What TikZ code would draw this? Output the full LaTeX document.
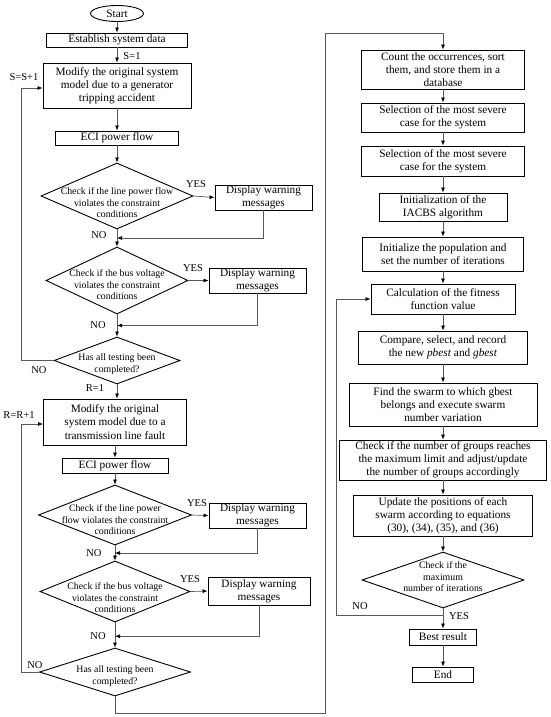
\documentclass[tikz,border=0pt]{standalone}
\usepackage{fontspec}
\setmainfont{Liberation Serif}
\usetikzlibrary{shapes.geometric,arrows.meta,calc}
\newcommand\myboxfont{\fontsize{11.3}{13.2}\selectfont}
\newcommand\mydiafont{\fontsize{9.8}{11.5}\selectfont}
\newcommand\mylblfont{\fontsize{10.5}{12}\selectfont}
\tikzset{
  box/.style={draw, line width=0.9pt, align=center, inner sep=0pt, font=\myboxfont},
  dia/.style={draw, diamond, line width=0.9pt, inner sep=0pt},
  dtxt/.style={align=center, font=\mydiafont, inner sep=0pt},
  term/.style={draw, ellipse, line width=0.9pt, inner sep=0pt, font=\myboxfont},
  arr/.style={draw=black!65, line width=0.7pt, -{Latex[length=5pt,width=4pt,black]}},
  lbl/.style={font=\mylblfont, inner sep=0pt}
}
\begin{document}
\begin{tikzpicture}[x=1pt,y=-1pt]
\useasboundingbox (0,0) rectangle (550,717);
% left column, upper part
\node[term, minimum width=53pt, minimum height=16pt] (start) at (117,13.5) {Start};
\node[box, minimum width=141pt, minimum height=14pt] (est) at (117,40) {Establish system data};
\node[box, minimum width=148pt, minimum height=45pt] (m1) at (117,85.5) {Modify the original system\\model due to a generator\\tripping accident};
\node[box, minimum width=123pt, minimum height=14pt] (eci1) at (117,138) {ECI power flow};
\node[dia, minimum width=152pt, minimum height=66pt] (d1) at (117,196) {};
\node[dtxt] (d1t) at (117,203) {Check if the line power flow\\violates the constraint\\conditions};
\node[box, minimum width=97pt, minimum height=25pt] (w1) at (263.5,197.5) {Display warning\\messages};
\node[dia, minimum width=142pt, minimum height=67pt] (d2) at (117,280.5) {};
\node[dtxt] (d2t) at (117,285) {Check if the bus voltage\\violates the constraint\\conditions};
\node[box, minimum width=97pt, minimum height=25pt] (w2) at (257.5,280.5) {Display warning\\messages};
\node[dia, minimum width=126pt, minimum height=47pt] (d3) at (117,360.5) {};
\node[dtxt] (d3t) at (117,364) {Has all testing been\\completed?};
% left column, lower part
\node[box, minimum width=143pt, minimum height=46pt] (m2) at (115,422) {Modify the original\\system model due to a\\transmission line fault};
\node[box, minimum width=106pt, minimum height=15pt] (eci2) at (115,465.5) {ECI power flow};
\node[dia, minimum width=153pt, minimum height=60pt] (d4) at (115,515) {};
\node[dtxt] (d4t) at (115,520) {Check if the line power\\flow violates the constraint\\conditions};
\node[box, minimum width=97pt, minimum height=25pt] (w3) at (257.5,515.5) {Display warning\\messages};
\node[dia, minimum width=150pt, minimum height=61pt] (d5) at (115,591.5) {};
\node[dtxt] (d5t) at (115,598) {Check if the bus voltage\\violates the constraint\\conditions};
\node[box, minimum width=102pt, minimum height=28pt] (w4) at (259,591) {Display warning\\messages};
\node[dia, minimum width=151pt, minimum height=48pt] (d6) at (115,672) {};
\node[dtxt] (d6t) at (115,676) {Has all testing been\\completed?};
% right column
\node[box, minimum width=163pt, minimum height=39pt] (count) at (443,69.5) {Count the occurrences, sort\\them, and store them in a\\database};
\node[box, minimum width=163pt, minimum height=29pt] (sel1) at (443,117.5) {Selection of the most severe\\case for the system};
\node[box, minimum width=163pt, minimum height=30pt] (sel2) at (443,161) {Selection of the most severe\\case for the system};
\node[box, minimum width=128pt, minimum height=28pt] (init) at (443,207) {Initialization of the\\IACBS algorithm};
\node[box, minimum width=161pt, minimum height=34pt] (pop) at (443,254) {Initialize the population and\\set the number of iterations};
\node[box, minimum width=144pt, minimum height=30pt] (calc) at (443,299) {Calculation of the fitness\\function value};
\node[box, minimum width=169pt, minimum height=33pt] (comp) at (443,347.5) {Compare, select, and record\\the new \textit{pbest} and \textit{gbest}};
\node[box, minimum width=188pt, minimum height=43pt] (find) at (443,404.5) {Find the swarm to which gbest\\belongs and execute swarm\\number variation};
\node[box, minimum width=207pt, minimum height=40pt] (grp) at (443,460) {Check if the number of groups reaches\\the maximum limit and adjust/update\\the number of groups accordingly};
\node[box, minimum width=179pt, minimum height=41pt] (upd) at (443,515.5) {Update the positions of each\\swarm according to equations\\(30), (34), (35), and (36)};
\node[dia, minimum width=162pt, minimum height=56pt] (dm) at (443,580) {};
\node[dtxt] (dmt) at (443,577) {Check if the\\maximum\\number of iterations};
\node[box, minimum width=67pt, minimum height=16pt] (best) at (443,637) {Best result};
\node[box, minimum width=61pt, minimum height=15pt] (end) at (443,674.5) {End};
% connectors, left upper
\draw[arr] (start) -- (est);
\draw[arr] (est) -- (m1);
\draw[arr] (m1) -- (eci1);
\draw[arr] (eci1) -- (d1.north);
\draw[arr] (d1.east) -- (w1.west);
\draw[arr] (d1.south) -- (d2.north);
\draw[arr] (w1.south) |- ($(d1.south)!0.5!(d2.north)$);
\draw[arr] (d2.east) -- (w2.west);
\draw[arr] (d2.south) -- (d3.north);
\draw[arr] (w2.south) |- ($(d2.south)!0.5!(d3.north)$);
\draw[arr] (d3.west) -- ++(-32,0) |- ([yshift=-2.5pt]m1.west);
\draw[arr] (d3.south) -- (d3.south |- m2.north);
% connectors, left lower
\draw[arr] (m2) -- (eci2);
\draw[arr] (eci2) -- (d4.north);
\draw[arr] (d4.east) -- (w3.west);
\draw[arr] (d4.south) -- (d5.north);
\draw[arr] (w3.south) |- ($(d4.south)!0.5!(d5.north)$);
\draw[arr] (d5.east) -- (w4.west);
\draw[arr] (d5.south) -- (d6.north);
\draw[arr] (w4.south) |- ($(d5.south)!0.55!(d6.north)$);
\draw[arr] (d6.west) -- ++(-17.5,0) |- ([yshift=-2pt]m2.west);
\draw[arr] (d6.south) -- ++(0,17) -| (325,33) -| (count.north);
% connectors, right
\draw[arr] (count) -- (sel1);
\draw[arr] (sel1) -- (sel2);
\draw[arr] (sel2) -- (init);
\draw[arr] (init) -- (pop);
\draw[arr] (pop) -- (calc);
\draw[arr] (calc) -- (comp);
\draw[arr] (comp) -- (find);
\draw[arr] (find) -- (grp);
\draw[arr] (grp) -- (upd);
\draw[arr] (upd) -- (dm.north);
\draw[arr] (dm.south) -- (best);
\draw[arr] ([yshift=-7pt]dm.south) -- ++(-107,0) |- (calc.west);
\draw[arr] (best) -- (end);
% labels
\node[lbl] (ls1) at (132,56) {S=1};
\node[lbl] (lss) at (24,77) {S=S+1};
\node[lbl] (ly1) at (196,184) {YES};
\node[lbl] (ln1) at (99,235) {NO};
\node[lbl] (ly2) at (193,268) {YES};
\node[lbl] (ln2) at (98,325) {NO};
\node[lbl] (ln3) at (39,370) {NO};
\node[lbl] (lr1) at (95,388) {R=1};
\node[lbl] (lrr) at (19,415) {R=R+1};
\node[lbl] (ly3) at (197,503) {YES};
\node[lbl] (ln4) at (94,553) {NO};
\node[lbl] (ly4) at (190,579) {YES};
\node[lbl] (ln5) at (98,636) {NO};
\node[lbl] (ln6) at (35,665) {NO};
\node[lbl] (ln7) at (360,606) {NO};
\node[lbl] (ly5) at (459,616) {YES};
\end{tikzpicture}
\end{document}
